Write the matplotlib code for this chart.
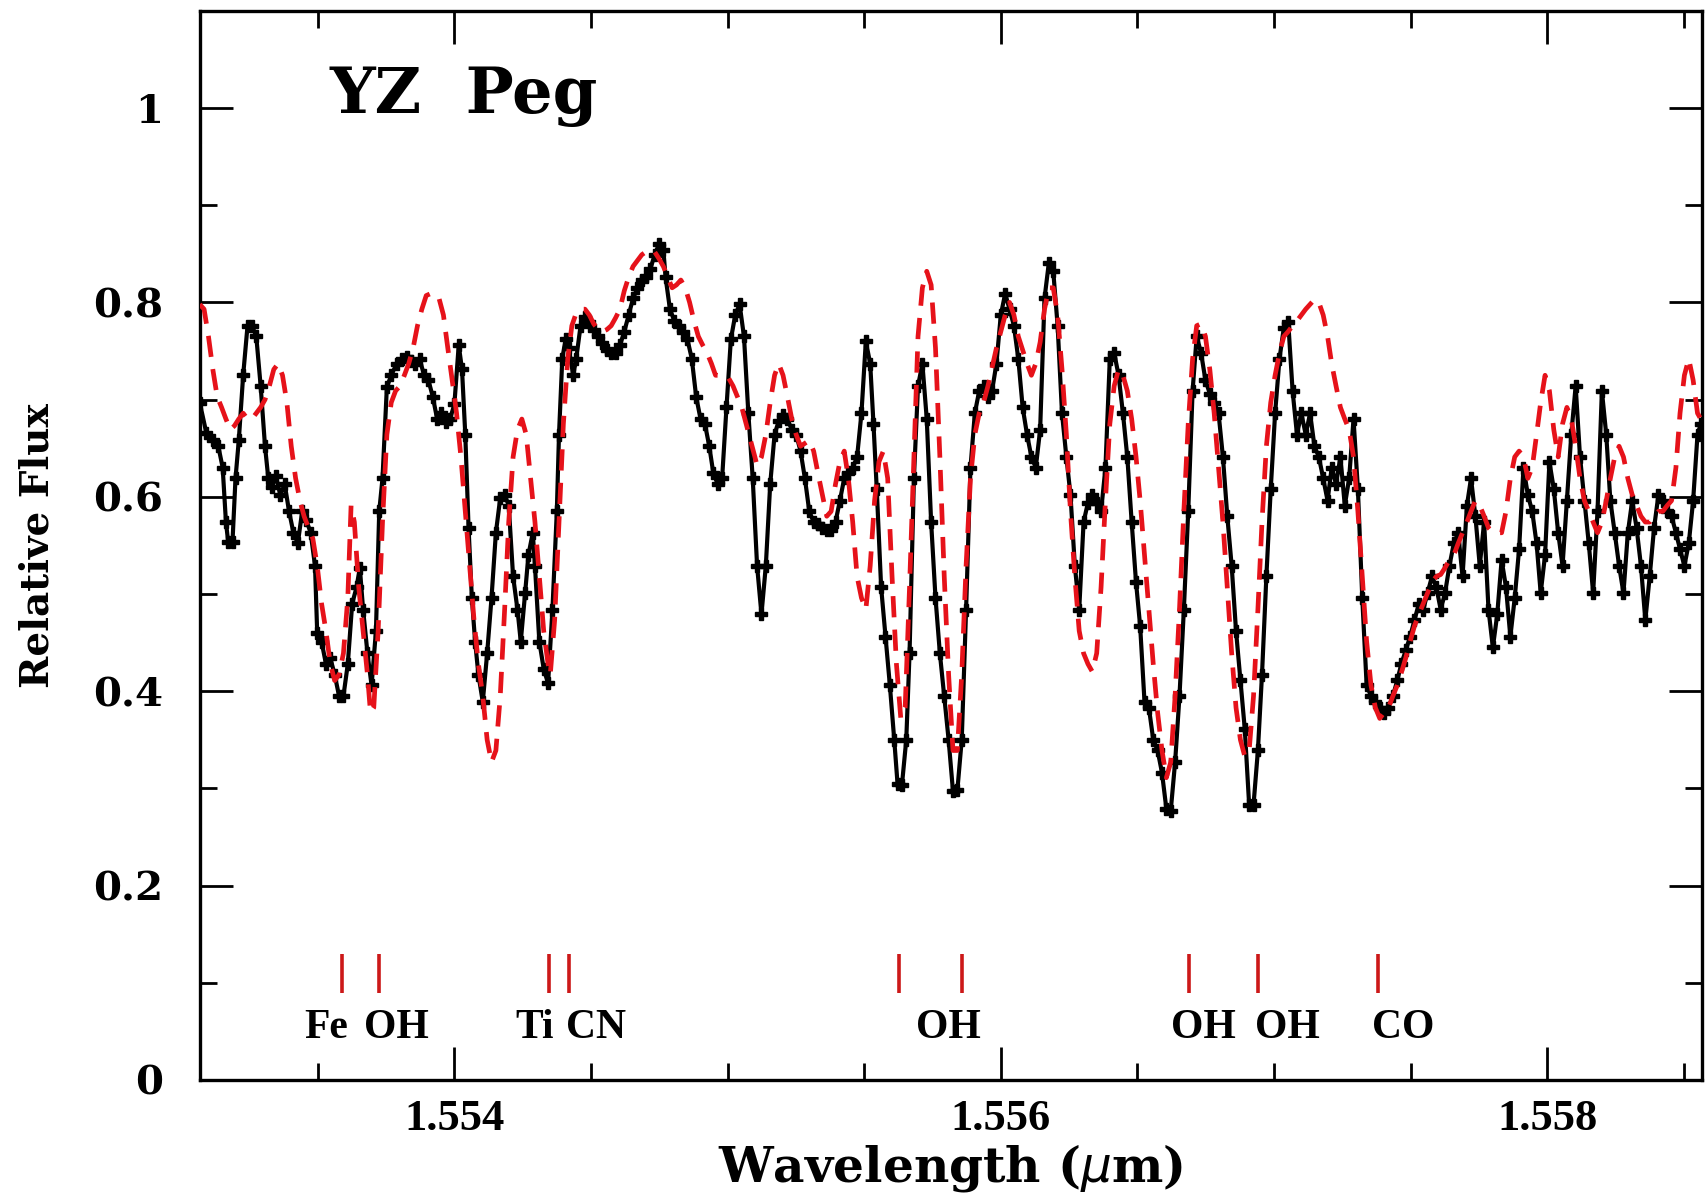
import matplotlib.pyplot as plt
from matplotlib.ticker import MultipleLocator, FixedLocator
import numpy as np

# observed spectrum (black, with points)
obs_wave = [1.553068, 1.553092, 1.553116, 1.553136, 1.553152, 1.553164, 1.553172, 1.553188, 1.553199, 1.553211,
            1.553227, 1.553243, 1.553259, 1.553275, 1.553291, 1.553307, 1.553319, 1.553331, 1.553347, 1.553363,
            1.553379, 1.553395, 1.553411, 1.553427, 1.553443, 1.553458, 1.553474, 1.553490, 1.553498, 1.553514,
            1.553530, 1.553546, 1.553562, 1.553578, 1.553594, 1.553610, 1.553626, 1.553642, 1.553654, 1.553666,
            1.553682, 1.553697, 1.553713, 1.553725, 1.553737, 1.553753, 1.553769, 1.553789, 1.553809, 1.553825,
            1.553841, 1.553857, 1.553873, 1.553889, 1.553905, 1.553921, 1.553937, 1.553952, 1.553968, 1.553984,
            1.554000, 1.554016, 1.554028, 1.554040, 1.554052, 1.554064, 1.554076, 1.554088, 1.554104, 1.554120,
            1.554136, 1.554152, 1.554168, 1.554184, 1.554199, 1.554215, 1.554231, 1.554243, 1.554259, 1.554271,
            1.554287, 1.554295, 1.554311, 1.554327, 1.554343, 1.554359, 1.554375, 1.554383, 1.554395, 1.554407,
            1.554419, 1.554435, 1.554446, 1.554462, 1.554478, 1.554494, 1.554510, 1.554526, 1.554542, 1.554558,
            1.554574, 1.554590, 1.554606, 1.554622, 1.554638, 1.554654, 1.554670, 1.554686, 1.554701, 1.554717,
            1.554733, 1.554749, 1.554765, 1.554773, 1.554789, 1.554805, 1.554821, 1.554837, 1.554853, 1.554869,
            1.554885, 1.554901, 1.554917, 1.554933, 1.554948, 1.554964, 1.554980, 1.554996, 1.555012, 1.555028,
            1.555044, 1.555060, 1.555076, 1.555092, 1.555108, 1.555124, 1.555140, 1.555156, 1.555172, 1.555187,
            1.555203, 1.555219, 1.555235, 1.555251, 1.555267, 1.555283, 1.555299, 1.555315, 1.555331, 1.555347,
            1.555363, 1.555379, 1.555395, 1.555411, 1.555427, 1.555442, 1.555458, 1.555474, 1.555490, 1.555506,
            1.555522, 1.555534, 1.555546, 1.555562, 1.555578, 1.555594, 1.555610, 1.555622, 1.555638, 1.555654,
            1.555666, 1.555682, 1.555697, 1.555713, 1.555729, 1.555745, 1.555761, 1.555777, 1.555793, 1.555809,
            1.555825, 1.555841, 1.555857, 1.555873, 1.555889, 1.555905, 1.555921, 1.555937, 1.555953, 1.555968,
            1.555984, 1.556000, 1.556016, 1.556032, 1.556048, 1.556064, 1.556080, 1.556096, 1.556112, 1.556128,
            1.556144, 1.556160, 1.556176, 1.556192, 1.556208, 1.556224, 1.556240, 1.556255, 1.556271, 1.556287,
            1.556303, 1.556319, 1.556335, 1.556351, 1.556367, 1.556383, 1.556399, 1.556415, 1.556431, 1.556447,
            1.556463, 1.556479, 1.556495, 1.556510, 1.556526, 1.556542, 1.556558, 1.556574, 1.556590, 1.556606,
            1.556622, 1.556638, 1.556654, 1.556670, 1.556686, 1.556702, 1.556717, 1.556733, 1.556749, 1.556765,
            1.556781, 1.556797, 1.556813, 1.556829, 1.556845, 1.556861, 1.556877, 1.556893, 1.556909, 1.556925,
            1.556941, 1.556956, 1.556972, 1.556988, 1.557004, 1.557020, 1.557036, 1.557052, 1.557068, 1.557084,
            1.557100, 1.557116, 1.557132, 1.557148, 1.557164, 1.557180, 1.557196, 1.557211, 1.557227, 1.557243,
            1.557259, 1.557275, 1.557291, 1.557307, 1.557323, 1.557339, 1.557355, 1.557371, 1.557387, 1.557403,
            1.557419, 1.557435, 1.557451, 1.557466, 1.557482, 1.557498, 1.557514, 1.557530, 1.557546, 1.557562,
            1.557578, 1.557594, 1.557610, 1.557626, 1.557642, 1.557658, 1.557674, 1.557690, 1.557706, 1.557721,
            1.557737, 1.557753, 1.557769, 1.557785, 1.557801, 1.557817, 1.557833, 1.557849, 1.557865, 1.557881,
            1.557897, 1.557913, 1.557929, 1.557945, 1.557961, 1.557976, 1.557992, 1.558008, 1.558024, 1.558040,
            1.558056, 1.558072, 1.558088, 1.558104, 1.558120, 1.558136, 1.558152, 1.558168, 1.558184, 1.558200,
            1.558216, 1.558231, 1.558247, 1.558263, 1.558279, 1.558295, 1.558311, 1.558327, 1.558343, 1.558359,
            1.558375, 1.558391, 1.558407, 1.558423, 1.558439, 1.558455, 1.558471, 1.558486, 1.558502, 1.558518,
            1.558534, 1.558550, 1.558562]
obs_flux = [0.697, 0.666, 0.658, 0.652, 0.630, 0.574, 0.554, 0.554, 0.619, 0.658,
            0.725, 0.776, 0.776, 0.765, 0.714, 0.652, 0.619, 0.610, 0.621, 0.602,
            0.613, 0.585, 0.563, 0.552, 0.585, 0.576, 0.563, 0.529, 0.460, 0.451,
            0.428, 0.434, 0.417, 0.395, 0.395, 0.428, 0.490, 0.507, 0.527, 0.484,
            0.439, 0.406, 0.462, 0.585, 0.619, 0.713, 0.725, 0.737, 0.742, 0.744,
            0.740, 0.737, 0.742, 0.725, 0.720, 0.703, 0.680, 0.686, 0.677, 0.680,
            0.695, 0.756, 0.731, 0.664, 0.568, 0.496, 0.451, 0.417, 0.389, 0.439,
            0.496, 0.563, 0.599, 0.602, 0.591, 0.518, 0.484, 0.451, 0.501, 0.540,
            0.563, 0.529, 0.451, 0.423, 0.408, 0.484, 0.585, 0.664, 0.742, 0.762,
            0.753, 0.725, 0.742, 0.776, 0.785, 0.780, 0.772, 0.765, 0.758, 0.751,
            0.748, 0.748, 0.756, 0.770, 0.787, 0.804, 0.815, 0.823, 0.826, 0.834,
            0.849, 0.860, 0.854, 0.826, 0.793, 0.781, 0.776, 0.770, 0.762, 0.742,
            0.703, 0.680, 0.675, 0.652, 0.624, 0.613, 0.619, 0.692, 0.762, 0.787,
            0.798, 0.765, 0.686, 0.619, 0.529, 0.479, 0.529, 0.613, 0.664, 0.678,
            0.684, 0.680, 0.669, 0.664, 0.647, 0.619, 0.585, 0.574, 0.572, 0.568,
            0.566, 0.566, 0.574, 0.596, 0.619, 0.624, 0.630, 0.641, 0.686, 0.760,
            0.737, 0.675, 0.608, 0.507, 0.456, 0.406, 0.350, 0.305, 0.303, 0.350,
            0.439, 0.619, 0.714, 0.737, 0.680, 0.574, 0.496, 0.439, 0.395, 0.350,
            0.297, 0.298, 0.350, 0.484, 0.630, 0.686, 0.709, 0.714, 0.703, 0.709,
            0.737, 0.787, 0.809, 0.793, 0.776, 0.742, 0.692, 0.664, 0.641, 0.630,
            0.669, 0.804, 0.841, 0.832, 0.776, 0.686, 0.641, 0.602, 0.529, 0.484,
            0.574, 0.594, 0.602, 0.594, 0.585, 0.630, 0.742, 0.748, 0.725, 0.686,
            0.641, 0.574, 0.512, 0.467, 0.389, 0.383, 0.350, 0.339, 0.316, 0.279,
            0.277, 0.327, 0.395, 0.484, 0.585, 0.709, 0.765, 0.748, 0.720, 0.706,
            0.697, 0.686, 0.641, 0.580, 0.529, 0.462, 0.411, 0.361, 0.283, 0.283,
            0.339, 0.417, 0.518, 0.608, 0.686, 0.742, 0.774, 0.780, 0.709, 0.664,
            0.686, 0.664, 0.686, 0.652, 0.641, 0.619, 0.596, 0.630, 0.613, 0.641,
            0.591, 0.619, 0.680, 0.608, 0.496, 0.406, 0.395, 0.389, 0.383, 0.378,
            0.383, 0.395, 0.411, 0.428, 0.442, 0.456, 0.473, 0.490, 0.484, 0.501,
            0.518, 0.507, 0.484, 0.501, 0.529, 0.552, 0.563, 0.518, 0.591, 0.619,
            0.580, 0.529, 0.574, 0.484, 0.445, 0.479, 0.535, 0.507, 0.456, 0.496,
            0.546, 0.630, 0.602, 0.585, 0.552, 0.501, 0.540, 0.636, 0.608, 0.563,
            0.529, 0.596, 0.664, 0.714, 0.641, 0.596, 0.552, 0.501, 0.585, 0.709,
            0.664, 0.596, 0.563, 0.529, 0.501, 0.563, 0.596, 0.568, 0.529, 0.473,
            0.518, 0.568, 0.602, 0.596, 0.585, 0.580, 0.563, 0.546, 0.529, 0.552,
            0.596, 0.664, 0.675]

# model spectrum (red dashed)
mod_wave = [1.553068, 1.553084, 1.553100, 1.553116, 1.553132, 1.553148, 1.553164, 1.553180, 1.553195, 1.553211,
            1.553227, 1.553243, 1.553259, 1.553275, 1.553291, 1.553307, 1.553323, 1.553339, 1.553355, 1.553371,
            1.553387, 1.553403, 1.553419, 1.553435, 1.553450, 1.553466, 1.553482, 1.553498, 1.553514, 1.553530,
            1.553546, 1.553562, 1.553578, 1.553594, 1.553610, 1.553622, 1.553634, 1.553650, 1.553666, 1.553682,
            1.553693, 1.553705, 1.553721, 1.553737, 1.553753, 1.553769, 1.553785, 1.553801, 1.553817, 1.553833,
            1.553849, 1.553865, 1.553881, 1.553897, 1.553913, 1.553929, 1.553944, 1.553960, 1.553976, 1.553992,
            1.554008, 1.554024, 1.554040, 1.554056, 1.554072, 1.554088, 1.554104, 1.554120, 1.554136, 1.554152,
            1.554168, 1.554184, 1.554199, 1.554215, 1.554231, 1.554247, 1.554263, 1.554279, 1.554295, 1.554311,
            1.554327, 1.554343, 1.554351, 1.554367, 1.554383, 1.554399, 1.554415, 1.554430, 1.554446, 1.554462,
            1.554478, 1.554494, 1.554510, 1.554526, 1.554542, 1.554558, 1.554574, 1.554590, 1.554606, 1.554622,
            1.554638, 1.554654, 1.554670, 1.554686, 1.554701, 1.554717, 1.554733, 1.554749, 1.554765, 1.554781,
            1.554797, 1.554813, 1.554829, 1.554845, 1.554861, 1.554877, 1.554893, 1.554909, 1.554925, 1.554941,
            1.554956, 1.554972, 1.554988, 1.555004, 1.555020, 1.555036, 1.555052, 1.555068, 1.555084, 1.555100,
            1.555108, 1.555124, 1.555140, 1.555156, 1.555172, 1.555187, 1.555203, 1.555219, 1.555235, 1.555251,
            1.555267, 1.555283, 1.555299, 1.555315, 1.555331, 1.555347, 1.555363, 1.555379, 1.555395, 1.555411,
            1.555427, 1.555442, 1.555458, 1.555474, 1.555490, 1.555506, 1.555522, 1.555538, 1.555554, 1.555570,
            1.555586, 1.555602, 1.555618, 1.555634, 1.555650, 1.555666, 1.555682, 1.555697, 1.555713, 1.555729,
            1.555745, 1.555761, 1.555777, 1.555793, 1.555809, 1.555825, 1.555841, 1.555857, 1.555873, 1.555889,
            1.555905, 1.555921, 1.555937, 1.555953, 1.555968, 1.555984, 1.556000, 1.556016, 1.556032, 1.556048,
            1.556064, 1.556080, 1.556096, 1.556112, 1.556128, 1.556144, 1.556160, 1.556176, 1.556192, 1.556208,
            1.556224, 1.556240, 1.556255, 1.556271, 1.556287, 1.556303, 1.556319, 1.556335, 1.556351, 1.556367,
            1.556383, 1.556399, 1.556415, 1.556431, 1.556447, 1.556463, 1.556479, 1.556495, 1.556510, 1.556526,
            1.556542, 1.556558, 1.556574, 1.556590, 1.556606, 1.556622, 1.556638, 1.556654, 1.556670, 1.556686,
            1.556702, 1.556717, 1.556733, 1.556749, 1.556765, 1.556781, 1.556797, 1.556813, 1.556829, 1.556845,
            1.556861, 1.556877, 1.556893, 1.556909, 1.556925, 1.556941, 1.556956, 1.556972, 1.556988, 1.557004,
            1.557020, 1.557036, 1.557052, 1.557068, 1.557084, 1.557100, 1.557116, 1.557132, 1.557148, 1.557164,
            1.557180, 1.557196, 1.557211, 1.557227, 1.557243, 1.557259, 1.557275, 1.557291, 1.557307, 1.557323,
            1.557339, 1.557355, 1.557371, 1.557387, 1.557403, 1.557419, 1.557435, 1.557451, 1.557466, 1.557482,
            1.557498, 1.557514, 1.557530, 1.557546, 1.557562, 1.557578, 1.557594, 1.557610, 1.557626, 1.557642,
            1.557658, 1.557674, 1.557690, 1.557706, 1.557721, 1.557737, 1.557753, 1.557769, 1.557785, 1.557801,
            1.557817, 1.557833, 1.557849, 1.557865, 1.557881, 1.557897, 1.557913, 1.557929, 1.557945, 1.557961,
            1.557976, 1.557992, 1.558008, 1.558024, 1.558040, 1.558056, 1.558072, 1.558088, 1.558104, 1.558120,
            1.558136, 1.558152, 1.558168, 1.558184, 1.558200, 1.558216, 1.558231, 1.558247, 1.558263, 1.558279,
            1.558295, 1.558311, 1.558327, 1.558343, 1.558359, 1.558375, 1.558391, 1.558407, 1.558423, 1.558439,
            1.558455, 1.558471, 1.558486, 1.558502, 1.558518, 1.558534, 1.558550, 1.558562]
mod_flux = [0.798, 0.793, 0.765, 0.731, 0.703, 0.692, 0.680, 0.669, 0.673, 0.680,
            0.686, 0.680, 0.680, 0.686, 0.692, 0.700, 0.714, 0.731, 0.737, 0.725,
            0.697, 0.652, 0.619, 0.596, 0.580, 0.568, 0.557, 0.529, 0.490, 0.462,
            0.428, 0.411, 0.417, 0.439, 0.496, 0.591, 0.574, 0.507, 0.462, 0.417,
            0.378, 0.383, 0.462, 0.574, 0.664, 0.697, 0.709, 0.714, 0.725, 0.737,
            0.753, 0.776, 0.793, 0.807, 0.809, 0.809, 0.804, 0.787, 0.753, 0.720,
            0.686, 0.641, 0.585, 0.529, 0.473, 0.428, 0.395, 0.350, 0.327, 0.339,
            0.395, 0.484, 0.574, 0.641, 0.669, 0.680, 0.664, 0.619, 0.574, 0.518,
            0.462, 0.428, 0.417, 0.473, 0.574, 0.675, 0.742, 0.776, 0.789, 0.793,
            0.793, 0.787, 0.778, 0.772, 0.770, 0.772, 0.776, 0.784, 0.793, 0.812,
            0.826, 0.837, 0.843, 0.849, 0.852, 0.854, 0.852, 0.845, 0.837, 0.826,
            0.815, 0.818, 0.823, 0.815, 0.800, 0.781, 0.765, 0.756, 0.748, 0.737,
            0.725, 0.725, 0.725, 0.722, 0.714, 0.703, 0.692, 0.675, 0.658, 0.641,
            0.632, 0.641, 0.664, 0.697, 0.725, 0.737, 0.725, 0.703, 0.680, 0.664,
            0.652, 0.655, 0.658, 0.647, 0.624, 0.602, 0.580, 0.585, 0.613, 0.636,
            0.647, 0.619, 0.574, 0.518, 0.496, 0.484, 0.529, 0.596, 0.636, 0.647,
            0.619, 0.518, 0.428, 0.372, 0.383, 0.507, 0.641, 0.765, 0.815, 0.832,
            0.818, 0.753, 0.641, 0.518, 0.417, 0.339, 0.339, 0.417, 0.529, 0.619,
            0.664, 0.686, 0.697, 0.714, 0.733, 0.753, 0.770, 0.787, 0.800, 0.787,
            0.765, 0.751, 0.737, 0.725, 0.737, 0.759, 0.793, 0.815, 0.815, 0.787,
            0.731, 0.664, 0.585, 0.518, 0.462, 0.439, 0.428, 0.420, 0.439, 0.507,
            0.596, 0.675, 0.714, 0.731, 0.725, 0.709, 0.680, 0.641, 0.596, 0.540,
            0.484, 0.428, 0.378, 0.339, 0.311, 0.327, 0.395, 0.484, 0.585, 0.675,
            0.742, 0.776, 0.778, 0.765, 0.731, 0.686, 0.630, 0.574, 0.507, 0.439,
            0.383, 0.350, 0.333, 0.339, 0.395, 0.484, 0.574, 0.652, 0.697, 0.725,
            0.748, 0.765, 0.770, 0.776, 0.781, 0.787, 0.793, 0.798, 0.803, 0.800,
            0.787, 0.765, 0.737, 0.714, 0.692, 0.680, 0.669, 0.641, 0.585, 0.518,
            0.451, 0.406, 0.383, 0.372, 0.378, 0.383, 0.395, 0.406, 0.419, 0.434,
            0.451, 0.467, 0.479, 0.490, 0.501, 0.512, 0.518, 0.520, 0.527, 0.535,
            0.540, 0.552, 0.563, 0.574, 0.585, 0.596, 0.591, 0.580, 0.568, 0.563,
            0.563, 0.563, 0.585, 0.619, 0.641, 0.647, 0.641, 0.619, 0.630, 0.664,
            0.697, 0.725, 0.709, 0.669, 0.641, 0.675, 0.692, 0.680, 0.652, 0.619,
            0.596, 0.585, 0.574, 0.563, 0.574, 0.596, 0.619, 0.641, 0.652, 0.641,
            0.619, 0.602, 0.591, 0.580, 0.574, 0.574, 0.580, 0.585, 0.585, 0.591,
            0.596, 0.630, 0.686, 0.725, 0.742, 0.720, 0.686, 0.680]

# identified lines
line_wave = [1.553590, 1.553725, 1.554347, 1.554418, 1.555626, 1.555857, 1.556689, 1.556940, 1.557382]
label_wave = [1.553530, 1.553789, 1.554295, 1.554518, 1.555809, 1.556741, 1.557048, 1.557474]
label_text = ['Fe', 'OH', 'Ti', 'CN', 'OH', 'OH', 'OH', 'CO']

serif = 'Liberation Serif'
wide = 'DejaVu Serif'

fig = plt.figure(figsize=(17.07, 11.98), dpi=100)
ax = fig.add_axes([0.117, 0.0985, 0.880, 0.8925])

ax.plot(obs_wave, obs_flux, color='black', lw=3.0, marker='P', markersize=8, zorder=2)
ax.plot(mod_wave, mod_flux, color='#e6121a', lw=3.4, ls=(0, (4.5, 2.6)), zorder=3)

ax.vlines(line_wave, 0.09, 0.13, color='#cc1818', lw=2.6)
for w, t in zip(label_wave, label_text):
    ax.text(w, 0.053, t, ha='center', va='center', fontsize=30, fontweight='bold', family=serif)

ax.text(1.553542, 0.995, 'YZ  Peg', ha='left', va='baseline', fontsize=46, fontweight='bold', family=wide)

ax.set_xlim(1.553068, 1.558566)
ax.set_ylim(0, 1.1)
ax.xaxis.set_major_locator(FixedLocator([1.554, 1.556, 1.558]))
ax.xaxis.set_minor_locator(MultipleLocator(0.0005))
ax.set_xticklabels(['1.554', '1.556', '1.558'])
ax.yaxis.set_major_locator(FixedLocator([0, 0.2, 0.4, 0.6, 0.8, 1.0]))
ax.yaxis.set_minor_locator(MultipleLocator(0.1))
ax.set_yticklabels(['0', '0.2', '0.4', '0.6', '0.8', '1'])

ax.tick_params(which='both', direction='in', top=True, right=True, width=2.0)
ax.tick_params(which='major', length=24)
ax.tick_params(which='minor', length=12)
ax.tick_params(axis='x', which='major', pad=14)
ax.tick_params(axis='y', which='major', pad=26)
for lab in ax.get_xticklabels():
    lab.set_fontsize(32)
    lab.set_fontweight('bold')
    lab.set_family(serif)
for lab in ax.get_yticklabels():
    lab.set_fontsize(29)
    lab.set_fontweight('bold')
    lab.set_family(wide)
for s in ax.spines.values():
    s.set_linewidth(2.4)

ax.set_xlabel('Wavelength ($\\mu$m)', fontsize=35, fontweight='bold', family=wide, va='center')
ax.xaxis.set_label_coords(0.5, -0.082)
ax.set_ylabel('Relative Flux', fontsize=28, fontweight='bold', family=wide, va='center')
ax.yaxis.set_label_coords(-0.108, 0.5)

plt.savefig('out.png', dpi=100)
